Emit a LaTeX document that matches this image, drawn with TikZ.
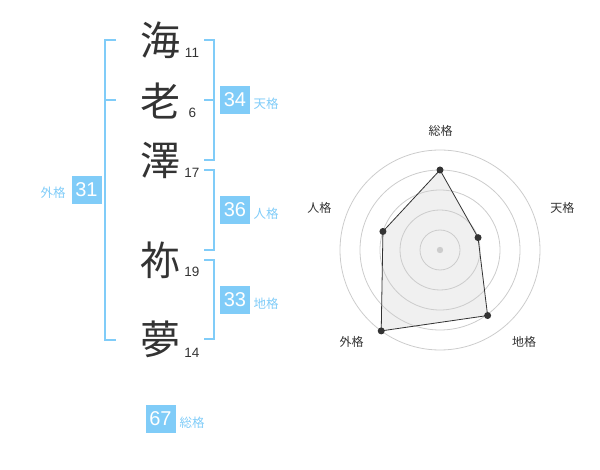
\documentclass[tikz,border=0pt]{standalone}
\usepackage{fontspec}
\setmainfont{Liberation Sans}
\newfontfamily\cjk{Noto Sans CJK JP}
\definecolor{sky}{RGB}{128,204,248}
\definecolor{ink}{RGB}{51,51,51}
\definecolor{ring}{RGB}{204,204,204}
\definecolor{polyfill}{RGB}{240,240,240}
\tikzset{
  kanji/.style={inner sep=0pt, text=ink, font=\cjk\fontsize{40}{40}\selectfont},
  stroke/.style={inner sep=0pt, text=ink, font=\fontsize{13.5}{14}\selectfont},
  scorebox/.style={fill=sky, text=white, minimum width=30pt, minimum height=28pt, inner sep=0pt, font=\fontsize{20}{20}\selectfont},
  kaku/.style={inner sep=0pt, text=sky, font=\cjk\fontsize{12.5}{13}\selectfont},
  bracket/.style={draw=sky, line width=2pt},
  axislabel/.style={inner sep=0pt, text=ink, font=\cjk\fontsize{12}{12}\selectfont},
  dot/.style={circle, fill=ink, inner sep=0pt, minimum size=7pt},
}
\begin{document}
\begin{tikzpicture}[x=1pt,y=-1pt]
\useasboundingbox (0,0) rectangle (600,470);
% characters
\node[kanji] (c1) at (160,40) {海};
\node[kanji] (c2) at (160,101) {老};
\node[kanji] (c3) at (160,160) {澤};
\node[kanji] (c4) at (160,260) {祢};
\node[kanji] (c5) at (160,339) {夢};
% stroke counts
\node[stroke] (n1) at (192,53) {11};
\node[stroke] (n2) at (192.5,113) {6};
\node[stroke] (n3) at (192,173) {17};
\node[stroke] (n4) at (192,272) {19};
\node[stroke] (n5) at (192,353) {14};
% brackets
\draw[bracket] (116,40) -- (105,40) -- (105,340) -- (116,340);
\draw[bracket] (105,100) -- (116,100);
\draw[bracket] (204,40) -- (214,40) -- (214,160) -- (204,160);
\draw[bracket] (204,100) -- (214,100);
\draw[bracket] (204,170) -- (214,170) -- (214,250) -- (204,250);
\draw[bracket] (204,260) -- (214,260) -- (214,339) -- (204,339);
% score boxes
\node[scorebox] (ten) at (235,100) {34};
\node[kaku] (tenL) at (266,104) {天格};
\node[scorebox] (jin) at (235,210) {36};
\node[kaku] (jinL) at (266,214) {人格};
\node[scorebox] (chi) at (235,300) {33};
\node[kaku] (chiL) at (266,304) {地格};
\node[scorebox] (gai) at (86.5,190) {31};
\node[kaku] (gaiL) at (53,193) {外格};
\node[scorebox] (sou) at (160.5,419) {67};
\node[kaku] (souL) at (192,423) {総格};
% radar chart
\begin{scope}[shift={(440,250)}, x=1pt, y=1pt]
  \coordinate (ps) at (90:80pt);
  \coordinate (pt) at (18:40pt);
  \coordinate (pc) at (-54:81pt);
  \coordinate (pg) at (-126:100pt);
  \coordinate (pj) at (162:60pt);
  \fill[polyfill] (ps) -- (pt) -- (pc) -- (pg) -- (pj) -- cycle;
  \foreach \r in {20,40,60,80,100} \draw[ring, line width=0.8pt] (0,0) circle (\r pt);
  \fill[ring] (0,0) circle (3.2pt);
  \draw[ink, line width=0.8pt] (ps) -- (pt) -- (pc) -- (pg) -- (pj) -- cycle;
  \foreach \p in {ps,pt,pc,pg,pj} \node[dot] at (\p) {};
  \node[axislabel] (ls) at (0.7,119.3) {総格};
  \node[axislabel] (lt) at (122.3,41.7) {天格};
  \node[axislabel] (lc) at (84,-91.7) {地格};
  \node[axislabel] (lg) at (-88.3,-91.7) {外格};
  \node[axislabel] (lj) at (-120.7,41.7) {人格};
\end{scope}
\end{tikzpicture}
\end{document}
